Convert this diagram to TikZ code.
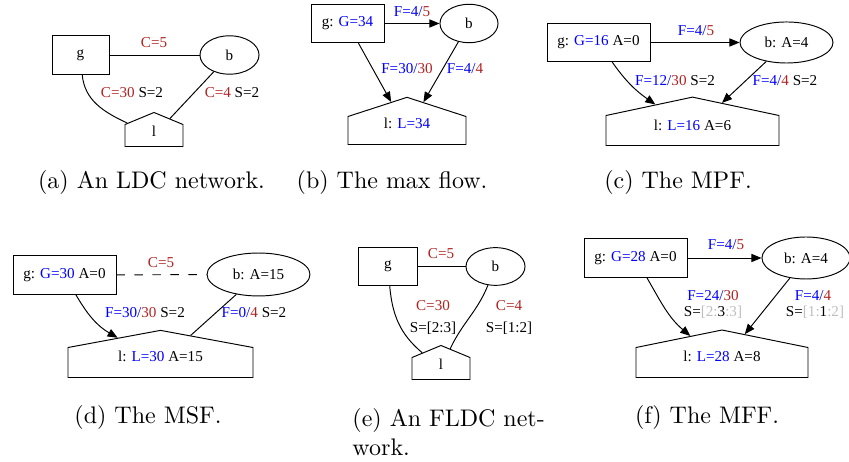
\documentclass[tikz,border=0pt]{standalone}
\usepackage{fontspec}
\newfontfamily\gvfont{Liberation Serif}
\usepackage{tikz}
\usetikzlibrary{positioning, calc}
\usetikzlibrary{shapes, arrows.meta}

\newcommand{\fl}[2]{\textcolor{flowblue}{F=#1/}\textcolor{capred}{#2}}
\newcommand{\cp}[1]{\textcolor{capred}{C=#1}}
\newcommand{\off}[1]{\textcolor{slotgray}{#1}}

\begin{document}
\begin{tikzpicture}[x=0.41667pt,y=0.41667pt]
\definecolor{capred}{RGB}{178,34,34};
\definecolor{flowblue}{RGB}{0,0,255};
\definecolor{slotgray}{RGB}{190,190,190};
\useasboundingbox (0,0) rectangle (849,462);
\tikzstyle{every node}=[font=\gvfont\fontsize{6.3}{7.6}\selectfont];
\tikzstyle{gen}=[draw, rectangle, minimum height=16pt];
\tikzstyle{bus}=[draw, ellipse, minimum height=16pt];
\tikzstyle{load}=[draw, signal, signal to=north, signal from=nowhere, anchor=south,
  inner sep=0pt, minimum size=0pt, align=flush center];
\tikzstyle{flow}=[-{Triangle[length=4.2pt,width=3.4pt]}];
\tikzstyle{subcap}=[font=\normalfont\normalsize];

% (a) LDC network
\node[gen, minimum width=23.75pt] (ga) at (80.5,407) {g};
\node[bus, minimum width=24.6pt] (ba) at (229.5,407) {b};
\node[load, text width=24.17pt, text height=5pt, text depth=4.17pt, signal pointer angle=135] (la) at (154,315) {l};
\draw (ga) -- (ba);
\draw (ga) to[out=-85,in=155] (la);
\draw (ba) -- (la);
\node at (154,419) {\cp{5}};
\node at (132,369) {\cp{30} S=2};
\node at (232,369) {\cp{4} S=2};

% (b) max flow
\node[gen, minimum width=30.4pt] (gb) at (347.5,438.5) {g: \textcolor{flowblue}{G=34}};
\node[bus, minimum width=24.2pt] (bb) at (469,438.5) {b};
\node[load, text width=49.17pt, text height=5pt, text depth=6.67pt, signal pointer angle=144] (lb) at (407,317) {l: \textcolor{flowblue}{L=34}};
\draw[flow] (gb) -- (bb);
\draw[flow] (gb) -- (lb);
\draw[flow] (bb) -- (lb);
\node at (412,450) {\fl{4}{5}};
\node at (407,393) {\fl{30}{30}};
\node at (465,393) {\fl{4}{4}};

% (c) MPF
\node[gen, minimum width=42.9pt] (gc) at (598.5,419.5) {g: \textcolor{flowblue}{G=16} A=0};
\node[bus, minimum width=38.75pt, minimum height=17.1pt] (bc) at (786.5,419.5) {b: A=4};
\node[load, text width=72.08pt, text height=6.25pt, text depth=6.25pt, signal pointer angle=156] (lc) at (692.5,316) {l: \textcolor{flowblue}{L=16} A=6};
\draw[flow] (gc) -- (bc);
\draw[flow] (gc) to[out=-55,in=145] (lc);
\draw[flow] (bc) -- (lc);
\node at (696,431) {\fl{4}{5}};
\node at (675,381) {\fl{12}{30} S=2};
\node at (785,381) {\fl{4}{4} S=2};

% (d) MSF
\node[gen, minimum width=42.9pt] (gd) at (64.5,187) {g: \textcolor{flowblue}{G=30} A=0};
\node[bus, minimum width=42.9pt, minimum height=17.9pt] (bd) at (258.5,187.5) {b: A=15};
\node[load, text width=77.08pt, text height=5.83pt, text depth=6.67pt, signal pointer angle=159] (ld) at (160.5,84) {l: \textcolor{flowblue}{L=30} A=15};
\draw[dash pattern=on 3.5pt off 4pt] (gd) -- (bd);
\draw[flow] (gd) to[out=-60,in=150] (ld);
\draw (bd) -- (ld);
\node at (161,199) {\cp{5}};
\node at (145,149) {\fl{30}{30} S=2};
\node at (254,149) {\fl{0}{4} S=2};

% (e) FLDC network
\node[gen, minimum width=24.2pt] (ge) at (388,195.5) {g};
\node[bus, minimum width=24.6pt, minimum height=15.4pt] (be) at (495.5,195.5) {b};
\node[load, text width=24.17pt, text height=5pt, text depth=4.17pt, signal pointer angle=135] (le) at (441,82) {l};
\draw (ge) -- (be);
\draw (ge) to[out=-85,in=140] (le);
\draw (be) to[out=-112,in=65] (le);
\node at (441,208) {\cp{5}};
\node at (433,156) {\cp{30}};
\node at (433,134) {S=[2:3]};
\node at (509,156) {\cp{4}};
\node at (509,134) {S=[1:2]};

% (f) MFF
\node[gen, minimum width=42.9pt] (gf) at (635.5,204) {g: \textcolor{flowblue}{G=28} A=0};
\node[bus, minimum width=36.7pt, minimum height=17.5pt] (bf) at (806,204) {b: A=4};
\node[load, text width=71.67pt, text height=5.83pt, text depth=6.67pt, signal pointer angle=157] (lf) at (722,84) {l: \textcolor{flowblue}{L=28} A=8};
\draw[flow] (gf) -- (bf);
\draw[flow] (gf) to[out=-60,in=140] (lf);
\draw[flow] (bf) -- (lf);
\node at (726,217) {\fl{4}{5}};
\node at (713,166) {\fl{24}{30}};
\node at (713,150) {S=\off{[2:}3\off{:3]}};
\node at (813,166) {\fl{4}{4}};
\node at (815,150) {S=\off{[1:}1\off{:2]}};

% captions
\tikzstyle{every node}=[subcap];
\node (capa) at (151.5,279) {(a) An LDC network.};
\node (capb) at (392,279) {(b) The max flow.};
\node (capc) at (678,279) {(c) The MPF.};
\node (capd) at (148,44) {(d) The MSF.};
\node[anchor=west, align=left] (cape) at (344,29.5) {(e) An FLDC net-\\work.};
\node (capf) at (707,44) {(f) The MFF.};
\end{tikzpicture}
\end{document}
